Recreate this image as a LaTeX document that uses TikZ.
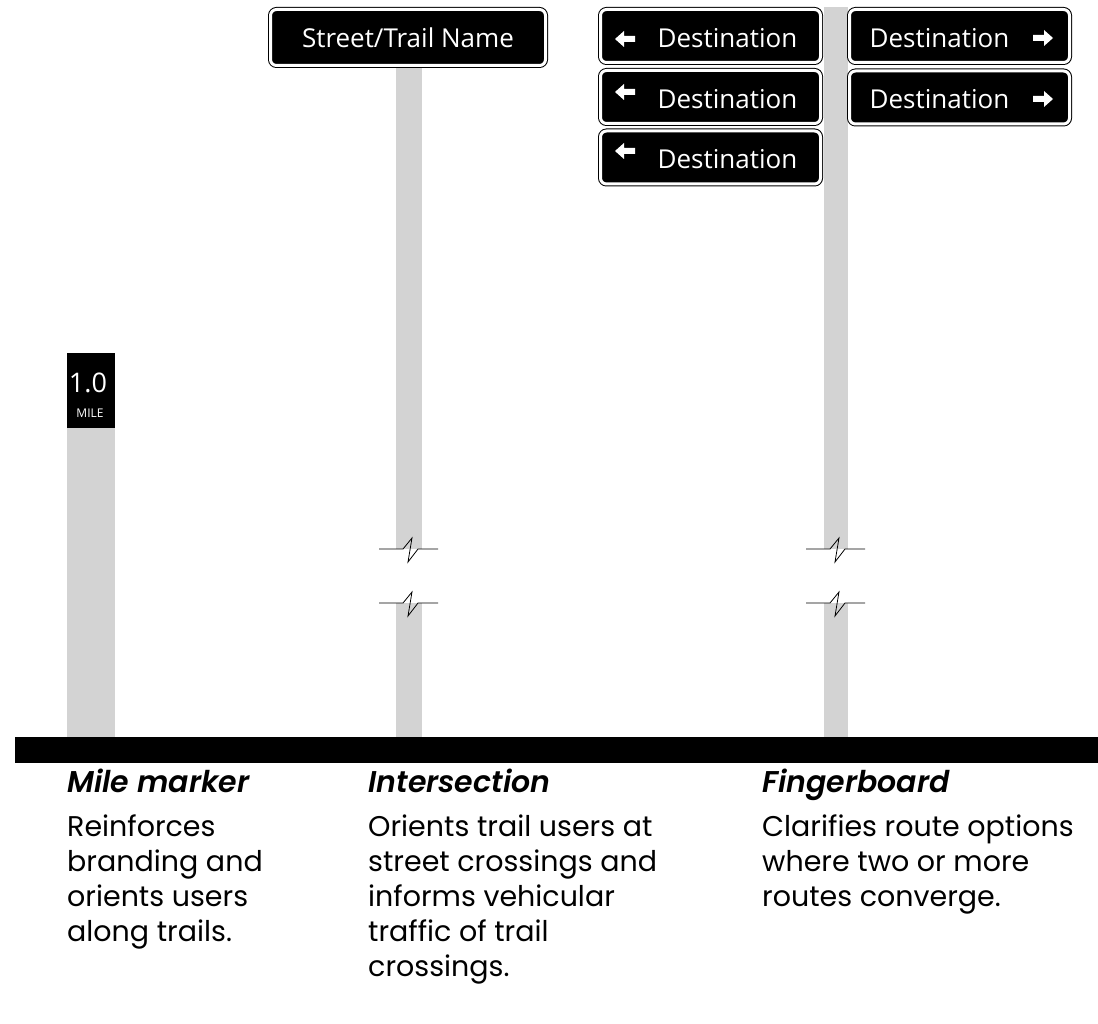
\documentclass[tikz,border=0pt]{standalone}
\usepackage{fontspec}
\setmainfont{Poppins}
\newfontfamily\signfont{Open Sans}
\newfontfamily\headfont{Poppins SemiBold Italic}
\usetikzlibrary{positioning}

\definecolor{postgray}{RGB}{211,211,211}

\tikzset{
  post/.style={fill=postgray, draw=none},
  sign/.style={
    draw=black, line width=1pt,
    double=white, double distance=3pt,
    fill=black, rounded corners=6pt,
    minimum height=53pt, inner sep=0pt
  },
  signtext/.style={text=white, inner sep=0pt,
    font=\signfont\fontsize{26}{26}\selectfont},
  heading/.style={anchor=base west, inner sep=0pt,
    font=\headfont\fontsize{30}{34}\selectfont},
  blurb/.style={anchor=north west, inner sep=0pt, align=left,
    font=\fontsize{28.5}{35}\selectfont},
  breakline/.style={line width=0.8pt, black},
  larrow/.pic={
    \fill[white] (0,0) -- (9,-8) -- (9,-3) -- (20,-3)
      -- (20,3) -- (9,3) -- (9,8) -- cycle;
  },
  rarrow/.pic={
    \fill[white] (0,0) -- (-9,-8) -- (-9,-3) -- (-20,-3)
      -- (-20,3) -- (-9,3) -- (-9,8) -- cycle;
  }
}

% zigzag cut across a post: #1 = post centre, #2 = height
\newcommand{\postbreak}[2]{%
  \draw[breakline] (#1-30,#2) -- (#1-6,#2) -- (#1+3,#2-11)
    -- (#1-1,#2+13) -- (#1+9,#2) -- (#1+29,#2);
}

\begin{document}
\begin{tikzpicture}[x=1pt, y=-1pt]
    \useasboundingbox (0,0) rectangle (1098,1024);

    % Posts
    \fill[post] (67,400) rectangle (115,737);
    \fill[post] (396,40) rectangle (422,549);
    \fill[post] (396,603) rectangle (422,737);
    \fill[post] (824,7) rectangle (848,549);
    \fill[post] (824,603) rectangle (848,737);

    % Breaks in the tall posts
    \postbreak{409}{549}
    \postbreak{409}{603}
    \postbreak{836}{549}
    \postbreak{836}{603}

    % Ground
    \fill[black] (15,737) rectangle (1098,763);

    % Mile marker
    \node[fill=black, minimum width=48pt, minimum height=75pt, inner sep=0pt]
      (mile) at (91,390.5) {};
    \node[text=white, inner sep=0pt, font=\signfont\fontsize{27}{27}\selectfont,
      anchor=base] (mileno) at (88,392) {1.0};
    \node[text=white, inner sep=0pt, font=\signfont\fontsize{12}{12}\selectfont,
      anchor=base] (mileunit) at (90,417) {MILE};

    % Intersection blade
    \node[sign, minimum width=275pt, minimum height=56pt] (street) at (408,37.5)
      {\signfont\fontsize{26}{26}\selectfont\color{white}Street/Trail Name};

    % Fingerboard, left-pointing blades
    \foreach \row/\y in {1/36, 2/97, 3/157.5} {
      \node[sign, minimum width=220pt] (left\row) at (710.5,\y) {};
      \node[signtext, anchor=west, right=57.5pt of left\row.west, yshift=-2pt]
        (lefttext\row) {Destination};
    }
    \pic at (615,39) {larrow};
    \pic at (615,92) {larrow};
    \pic at (615,151) {larrow};

    % Fingerboard, right-pointing blades
    \foreach \row/\y in {1/36, 2/97.5} {
      \node[sign, minimum width=220pt] (right\row) at (959.5,\y) {};
      \node[signtext, anchor=west, right=20.5pt of right\row.west, yshift=-2pt]
        (righttext\row) {Destination};
    }
    \pic at (1053,38) {rarrow};
    \pic at (1053,99) {rarrow};

    % Captions
    \node[heading] (milehead) at (67,792) {Mile marker};
    \node[blurb] (mileblurb) at (67,815)
      {Reinforces\\branding and\\orients users\\along trails.};

    \node[heading] (crosshead) at (368,792) {Intersection};
    \node[blurb] (crossblurb) at (368,815)
      {Orients trail users at\\street crossings and\\informs vehicular\\traffic of trail\\crossings.};

    \node[heading] (fingerhead) at (762,792) {Fingerboard};
    \node[blurb] (fingerblurb) at (762,815)
      {Clarifies route options\\where two or more\\routes converge.};
\end{tikzpicture}
\end{document}
